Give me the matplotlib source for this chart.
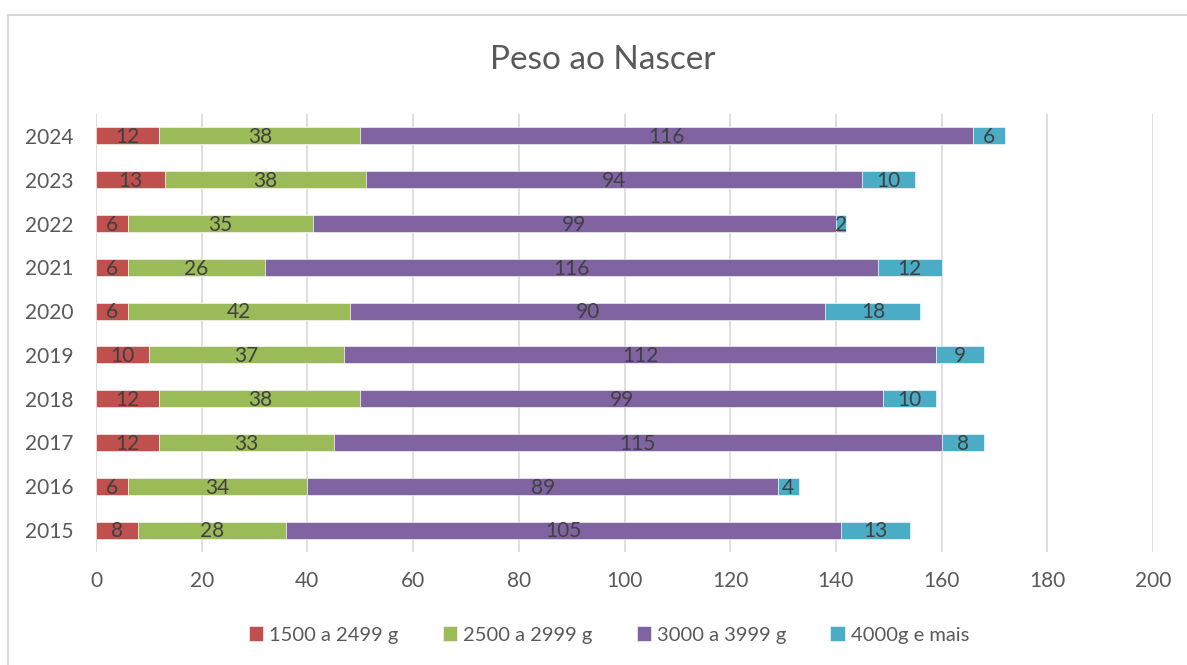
import numpy as np
import matplotlib.pyplot as plt
from matplotlib.patches import Rectangle

# data
years = ['2015', '2016', '2017', '2018', '2019', '2020', '2021', '2022', '2023', '2024']
peso_1500 = [8, 6, 12, 12, 10, 6, 6, 6, 13, 12]
peso_2500 = [28, 34, 33, 38, 37, 42, 26, 35, 38, 38]
peso_3000 = [105, 89, 115, 99, 112, 90, 116, 99, 94, 116]
peso_4000 = [13, 4, 8, 10, 9, 18, 12, 2, 10, 6]
series_names = ['1500 a 2499 g', '2500 a 2999 g', '3000 a 3999 g', '4000g e mais']
colors = ['#C0504D', '#9BBB59', '#8064A2', '#4BACC6']

plt.rcParams['font.family'] = ['Lato', 'DejaVu Sans']

fig = plt.figure(figsize=(11.87, 6.65), dpi=100)
ax = fig.add_axes([96 / 1187, 1 - 552 / 665, (1153 - 96) / 1187, (552 - 114) / 665])

# chart border
fig.patches.append(Rectangle((8 / 1187, -0.05), 1.2, 1 - 15 / 665 + 0.05, transform=fig.transFigure,
                             fill=False, edgecolor='#D9D9D9', linewidth=1.5))

y = np.arange(len(years))
left = np.zeros(len(years))
for vals, name, c in zip([peso_1500, peso_2500, peso_3000, peso_4000], series_names, colors):
    vals = np.array(vals)
    ax.barh(y, vals, left=left, height=0.39, color=c, label=name,
            edgecolor='white', linewidth=0.4, zorder=3)
    for yi, l, v in zip(y, left, vals):
        ax.text(l + v / 2, yi - 0.03, str(v), ha='center', va='center',
                fontsize=15, color='#404040', zorder=4)
    left = left + vals

ax.set_xlim(0, 200)
ax.set_ylim(-0.5, len(years) - 0.5)
ax.set_xticks(np.arange(0, 201, 20))
ax.set_yticks(y)
ax.set_yticklabels(years)
ax.tick_params(axis='both', length=0, labelsize=15, labelcolor='#595959')
ax.tick_params(axis='x', pad=14)
ax.tick_params(axis='y', pad=16)
ax.grid(axis='x', color='#D9D9D9', linewidth=1.2, zorder=0)
for s in ax.spines.values():
    s.set_visible(False)

fig.text(603 / 1187, 1 - 60 / 665, 'Peso ao Nascer', ha='center', va='center',
         fontsize=24, color='#595959')

fig.legend(loc='center', bbox_to_anchor=(609 / 1187, 1 - 635 / 665), ncol=4, frameon=False,
           fontsize=14.5, labelcolor='#595959', handlelength=0.7, handleheight=0.7,
           handletextpad=0.3, columnspacing=2.2)

fig.savefig('out.png', dpi=100)
